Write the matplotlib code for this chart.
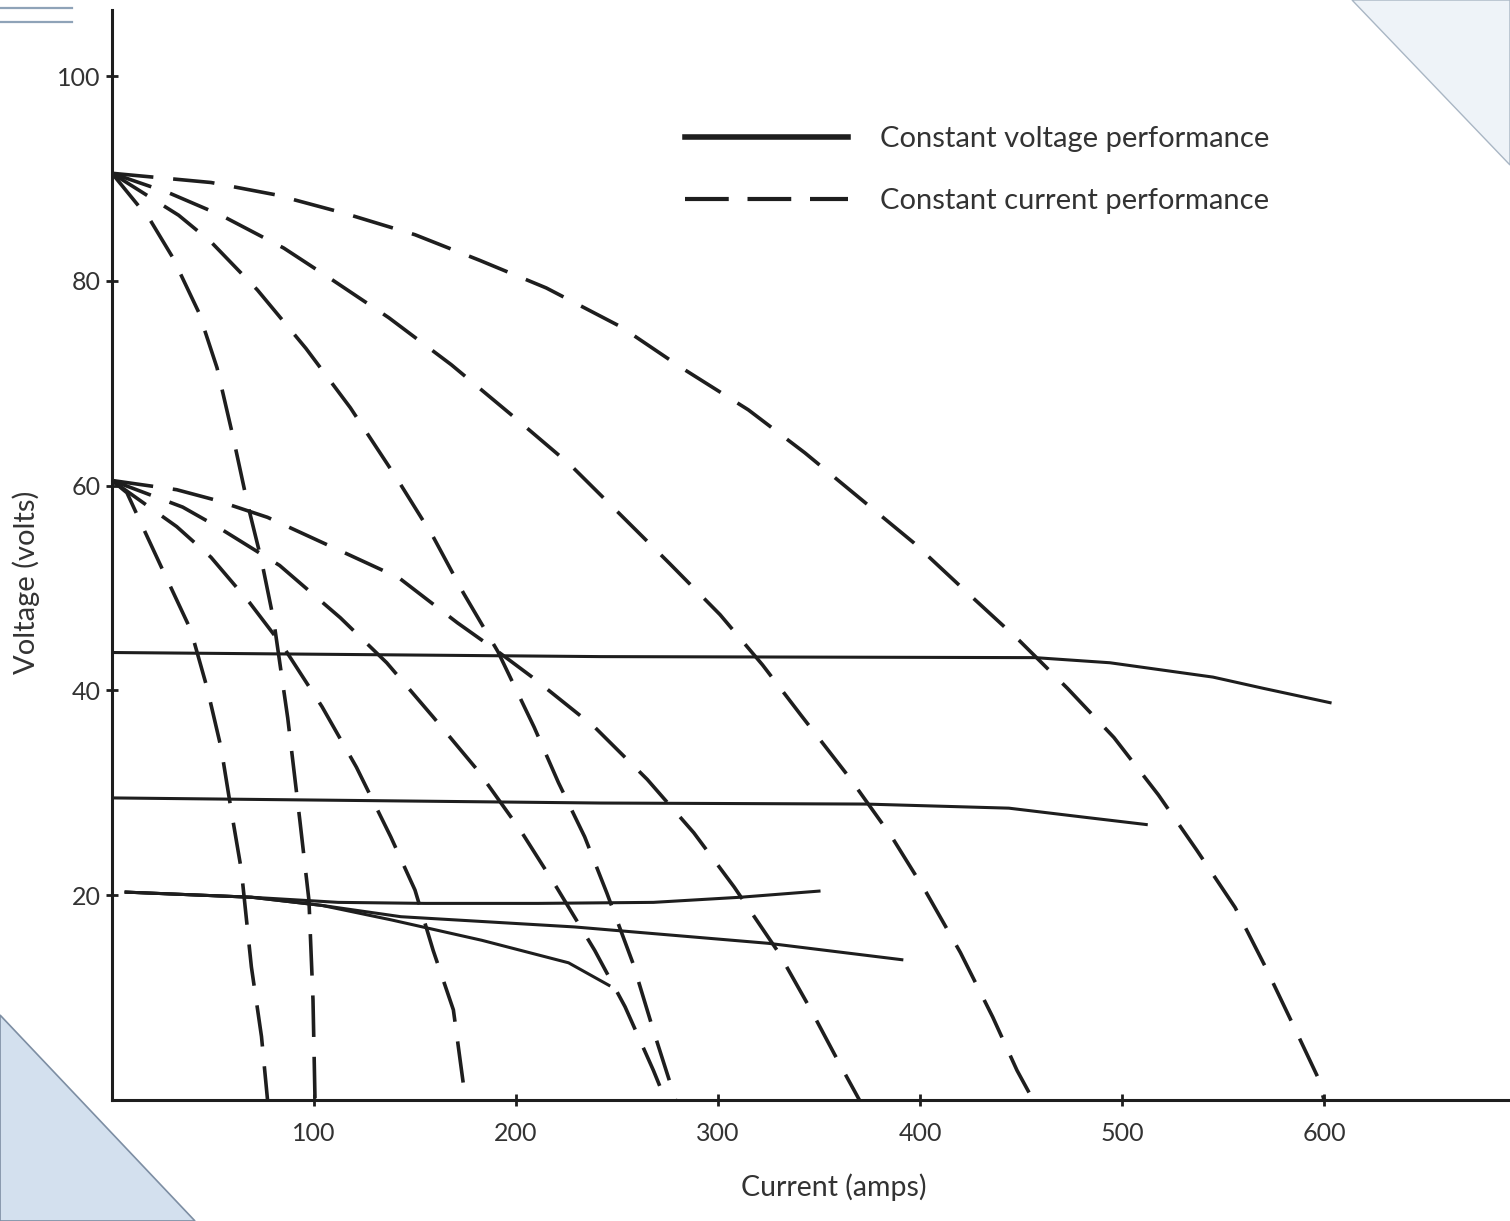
import matplotlib
matplotlib.use("Agg")
import matplotlib.pyplot as plt
from matplotlib.patches import Polygon
from matplotlib.lines import Line2D

plt.rcParams['font.family'] = ['Lato', 'DejaVu Sans']

# constant current curves, open circuit 90 V
cc90a_i = [0, 49, 81, 115, 150, 182, 215, 252, 282, 315, 343, 370, 397, 422, 449, 473, 496, 518, 537, 556, 571, 586, 597, 600]
cc90a_v = [90.5, 89.6, 88.4, 86.6, 84.5, 82.0, 79.3, 75.5, 71.5, 67.4, 63.2, 58.8, 54.4, 49.8, 44.9, 40.2, 35.4, 29.8, 24.4, 18.8, 13.0, 6.8, 2.2, 0]
cc90b_i = [0, 28, 54, 85, 109, 137, 168, 199, 227, 251, 276, 301, 322, 341, 365, 386, 403, 420, 436, 448, 456]
cc90b_v = [90.5, 88.6, 86.4, 83.2, 80.1, 76.4, 71.8, 66.7, 62.0, 57.3, 52.4, 47.4, 42.5, 37.6, 31.5, 25.7, 20.3, 14.4, 8.1, 2.9, 0]
cc90c_i = [0, 33, 49, 72, 96, 118, 141, 159, 174, 191, 209, 221, 234, 245, 258, 268, 279]
cc90c_v = [90.5, 86.4, 83.8, 79.1, 73.4, 67.6, 60.7, 55.0, 49.5, 43.8, 36.4, 31.0, 25.7, 20.2, 13.3, 6.8, 0]
cc90d_i = [0, 19, 30, 43, 52, 60, 67, 74, 80, 87, 93, 97.5, 99.5, 100.5]
cc90d_v = [90.5, 85.9, 82.3, 76.9, 71.5, 64.7, 58.3, 52.7, 46.9, 37.3, 27.3, 19.5, 9.8, 0]

# constant current curves, open circuit 60 V
cc60a_i = [0, 32, 51, 77, 109, 142, 171, 191, 208, 239, 265, 288, 308, 330, 346, 360, 370]
cc60a_v = [60.5, 59.6, 58.6, 56.9, 54.0, 51.0, 46.6, 43.8, 41.3, 36.4, 31.3, 26.1, 20.8, 14.4, 8.8, 3.6, 0]
cc60b_i = [0, 35, 52, 83, 113, 136, 159, 181, 202, 220, 239, 254, 268, 274]
cc60b_v = [60.5, 57.9, 56.0, 52.2, 47.1, 42.7, 37.4, 32.2, 26.4, 20.8, 14.6, 9.1, 2.9, 0]
cc60c_i = [0, 32, 49, 68, 85, 104, 121, 138, 150, 159, 169, 175]
cc60c_v = [60.5, 56.0, 53.0, 48.6, 44.2, 38.4, 32.5, 25.7, 20.5, 14.6, 8.8, 0]
cc60d_i = [0, 7.4, 13, 25, 39, 47, 54, 59, 64, 69, 74, 77]
cc60d_v = [60.5, 59.3, 56.9, 51.8, 45.9, 40.3, 34.4, 28.3, 22.5, 13.0, 6.2, 0]

# constant voltage curves
cv43_i = [0, 242, 457, 494, 545, 570, 603]
cv43_v = [43.7, 43.3, 43.2, 42.7, 41.3, 40.2, 38.8]
cv29_i = [0, 242, 373, 444, 482, 512]
cv29_v = [29.5, 29.0, 28.9, 28.5, 27.6, 26.9]
cv20a_i = [7, 69, 112, 155, 211, 268, 311, 350]
cv20a_v = [20.3, 19.8, 19.3, 19.2, 19.2, 19.3, 19.8, 20.4]
cv20b_i = [7, 69, 104, 143, 229, 325, 391]
cv20b_v = [20.3, 19.8, 19.0, 17.9, 16.9, 15.3, 13.7]
cv20c_i = [7, 69, 104, 138, 183, 226, 246]
cv20c_v = [20.3, 19.8, 19.0, 17.6, 15.6, 13.4, 11.2]

xticks = [100, 200, 300, 400, 500, 600]
yticks = [20, 40, 60, 80, 100]

W, H = 1510, 1221
fig = plt.figure(figsize=(W / 100, H / 100), dpi=100)
fig.patch.set_facecolor("white")

# slide decoration
fig.add_artist(Polygon([(0, 1 - 1015 / H), (195 / W, 0), (0, 0)], closed=True,
                       transform=fig.transFigure, facecolor="#d3e0ee", edgecolor="#7d8ea3", lw=1.2))
fig.add_artist(Polygon([(1352 / W, 1), (1, 1 - 165 / H), (1, 1)], closed=True,
                       transform=fig.transFigure, facecolor="#eef3f8", edgecolor="#a9b6c4", lw=1.0))
for yy in (8, 22):
    fig.add_artist(Line2D([0, 72 / W], [1 - yy / H, 1 - yy / H], transform=fig.transFigure,
                          color="#8fa3b8", lw=1.6))

ax = fig.add_axes([112 / W, (H - 1100) / H, (W - 112) / W, 1090 / H])
ax.set_facecolor("none")
ax.set_xlim(0, (W - 112) / 2.02)
ax.set_ylim(0, 1090 / 10.24)

ink = "#1e1e1e"
dash = (0, (11.5, 5.5))
dlw = 2.6
slw = 2.2

for xs, ys in [(cc90a_i, cc90a_v), (cc90b_i, cc90b_v), (cc90c_i, cc90c_v), (cc90d_i, cc90d_v),
               (cc60a_i, cc60a_v), (cc60b_i, cc60b_v), (cc60c_i, cc60c_v), (cc60d_i, cc60d_v)]:
    ax.plot(xs, ys, color=ink, lw=dlw, linestyle=dash, solid_capstyle="butt")

for xs, ys in [(cv43_i, cv43_v), (cv29_i, cv29_v), (cv20a_i, cv20a_v), (cv20b_i, cv20b_v), (cv20c_i, cv20c_v)]:
    ax.plot(xs, ys, color=ink, lw=slw)

for s in ["top", "right"]:
    ax.spines[s].set_visible(False)
for s in ["left", "bottom"]:
    ax.spines[s].set_linewidth(2.2)
    ax.spines[s].set_color(ink)

ax.set_xticks(xticks)
ax.set_yticks(yticks)
ax.tick_params(axis="both", direction="inout", length=8, width=2, color=ink,
               labelsize=18, labelcolor="#333333")
ax.tick_params(axis="x", pad=12)
ax.tick_params(axis="y", pad=4)

ax.set_xlabel("Current (amps)", fontsize=20.5, color="#333333")
ax.xaxis.set_label_coords((834 - 112) / (W - 112), (1100 - 1173) / 1090)
ax.set_ylabel("Voltage (volts)", fontsize=21, color="#333333")
ax.yaxis.set_label_coords((40 - 112) / (W - 112), (1100 - 582) / 1090)

h_cv = Line2D([], [], color=ink, lw=4)
h_cc = Line2D([], [], color=ink, lw=3, linestyle=(0, (10.5, 4.5)))
leg = ax.legend([h_cv, h_cc], ["Constant voltage performance", "Constant current performance"],
                loc="upper left", bbox_to_anchor=((685 - 112) / (W - 112), (1100 - 126) / 1090),
                frameon=False, fontsize=21, handlelength=5.6, handletextpad=1.1,
                labelspacing=1.25, borderpad=0, borderaxespad=0)
for t in leg.get_texts():
    t.set_color("#333333")

fig.savefig("out.png", dpi=100)
